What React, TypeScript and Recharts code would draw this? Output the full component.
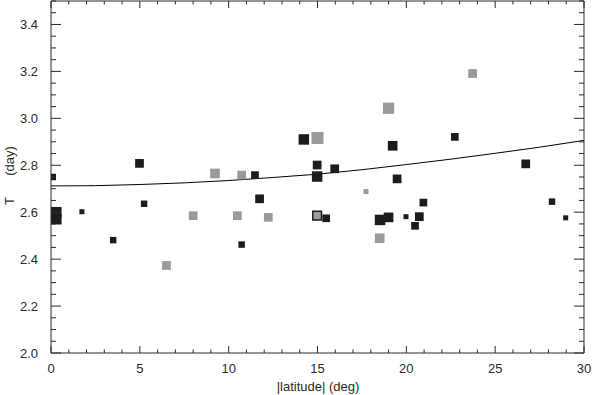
import React from "react";
import { ScatterChart, Scatter, XAxis, YAxis, ZAxis } from "recharts";

// dark squares: latitude, period, marker weight
const darkPoints = [
  { x: 0.1, y: 2.75, z: 2 },
  { x: 0.3, y: 2.6, z: 6 },
  { x: 0.3, y: 2.57, z: 6 },
  { x: 1.74, y: 2.602, z: 1 },
  { x: 3.5, y: 2.481, z: 2 },
  { x: 4.98, y: 2.808, z: 4 },
  { x: 5.24, y: 2.636, z: 2 },
  { x: 10.73, y: 2.462, z: 2 },
  { x: 11.48, y: 2.758, z: 3 },
  { x: 11.74, y: 2.657, z: 4 },
  { x: 14.23, y: 2.91, z: 6 },
  { x: 14.98, y: 2.801, z: 4 },
  { x: 14.98, y: 2.752, z: 6 },
  { x: 15.49, y: 2.574, z: 3 },
  { x: 15.97, y: 2.785, z: 4 },
  { x: 18.52, y: 2.567, z: 6 },
  { x: 19.0, y: 2.578, z: 5 },
  { x: 19.23, y: 2.883, z: 5 },
  { x: 19.48, y: 2.742, z: 4 },
  { x: 19.98, y: 2.581, z: 1 },
  { x: 20.49, y: 2.542, z: 3 },
  { x: 20.73, y: 2.581, z: 4 },
  { x: 20.96, y: 2.641, z: 3 },
  { x: 22.73, y: 2.921, z: 3 },
  { x: 26.72, y: 2.806, z: 4 },
  { x: 28.2, y: 2.645, z: 2 },
  { x: 28.97, y: 2.576, z: 1 },
];

const grayPoints = [
  { x: 6.5, y: 2.373, z: 4 },
  { x: 8.0, y: 2.585, z: 4 },
  { x: 9.23, y: 2.765, z: 5 },
  { x: 10.49, y: 2.585, z: 4 },
  { x: 10.73, y: 2.758, z: 4 },
  { x: 12.23, y: 2.578, z: 4 },
  { x: 15.0, y: 2.916, z: 8 },
  { x: 17.73, y: 2.688, z: 1 },
  { x: 18.5, y: 2.489, z: 5 },
  { x: 19.0, y: 3.043, z: 7 },
  { x: 23.73, y: 3.191, z: 4 },
];

const outlinedPoints = [{ x: 14.98, y: 2.585, z: 4 }];

// fitted curve
const fitCurve = [
  { x: 0, y: 2.712 },
  { x: 2.5, y: 2.713 },
  { x: 5, y: 2.718 },
  { x: 7.5, y: 2.725 },
  { x: 10, y: 2.735 },
  { x: 12.5, y: 2.748 },
  { x: 15, y: 2.762 },
  { x: 17.5, y: 2.781 },
  { x: 20, y: 2.803 },
  { x: 22.5, y: 2.826 },
  { x: 25, y: 2.851 },
  { x: 27.5, y: 2.877 },
  { x: 30, y: 2.906 },
];

const xTicks = [
  0, 1, 2, 3, 4, 5, 6, 7, 8, 9, 10, 11, 12, 13, 14, 15, 16, 17, 18, 19, 20,
  21, 22, 23, 24, 25, 26, 27, 28, 29, 30,
];
const xMajor = [0, 5, 10, 15, 20, 25, 30];
const yTicks = [
  2.0, 2.05, 2.1, 2.15, 2.2, 2.25, 2.3, 2.35, 2.4, 2.45, 2.5, 2.55, 2.6, 2.65,
  2.7, 2.75, 2.8, 2.85, 2.9, 2.95, 3.0, 3.05, 3.1, 3.15, 3.2, 3.25, 3.3, 3.35,
  3.4, 3.45, 3.5,
];
const yMajor = [2.0, 2.2, 2.4, 2.6, 2.8, 3.0, 3.2, 3.4];

const INK = "#2a2a2a";
const DARK = "#1c1c1c";
const GRAY = "#9a9a9a";
const FONT = "'Liberation Sans', Arial, sans-serif";

const isMajor = (list: number[], v: number) => list.some((m) => Math.abs(m - v) < 1e-6);

const BottomTick = (props: any) => {
  const { x, y, payload } = props;
  const major = isMajor(xMajor, payload.value);
  return (
    <g>
      <line x1={x} y1={y} x2={x} y2={y - (major ? 7 : 3.5)} stroke={INK} />
      {major && (
        <text x={x} y={y + 20} textAnchor="middle" fontSize={13} fontFamily={FONT} fill={INK}>
          {payload.value}
        </text>
      )}
    </g>
  );
};

const TopTick = (props: any) => {
  const { x, y, payload } = props;
  const major = isMajor(xMajor, payload.value);
  return <line x1={x} y1={y} x2={x} y2={y + (major ? 7 : 3.5)} stroke={INK} />;
};

const LeftTick = (props: any) => {
  const { x, y, payload } = props;
  const major = isMajor(yMajor, payload.value);
  return (
    <g>
      <line x1={x} y1={y} x2={x + (major ? 10 : 5)} y2={y} stroke={INK} />
      {major && (
        <text x={x - 13} y={y + 5} textAnchor="end" fontSize={13} fontFamily={FONT} fill={INK}>
          {payload.value.toFixed(1)}
        </text>
      )}
    </g>
  );
};

const RightTick = (props: any) => {
  const { x, y, payload } = props;
  const major = isMajor(yMajor, payload.value);
  return <line x1={x} y1={y} x2={x - (major ? 10 : 5)} y2={y} stroke={INK} />;
};

const NoMark = () => <g />;

export default function App() {
  return (
    <div style={{ position: "absolute", left: 0, top: 0, width: 593, height: 395, background: "#fff" }}>
      <ScatterChart width={593} height={395} margin={{ top: 0, right: 8, bottom: 41, left: 50 }}>
        <XAxis
          xAxisId="b"
          type="number"
          dataKey="x"
          domain={[0, 30]}
          ticks={xTicks}
          interval={0}
          orientation="bottom"
          height={1}
          tickSize={0}
          tickMargin={0}
          tickLine={false}
          axisLine={{ stroke: INK }}
          tick={BottomTick}
          allowDataOverflow
        />
        <XAxis
          xAxisId="t"
          type="number"
          dataKey="x"
          domain={[0, 30]}
          ticks={xTicks}
          interval={0}
          orientation="top"
          height={1}
          tickSize={0}
          tickMargin={0}
          tickLine={false}
          axisLine={{ stroke: INK }}
          tick={TopTick}
          allowDataOverflow
        />
        <YAxis
          yAxisId="l"
          type="number"
          dataKey="y"
          domain={[2.0, 3.5]}
          ticks={yTicks}
          interval={0}
          orientation="left"
          width={1}
          tickSize={0}
          tickMargin={0}
          tickLine={false}
          axisLine={{ stroke: INK }}
          tick={LeftTick}
          allowDataOverflow
        />
        <YAxis
          yAxisId="r"
          type="number"
          dataKey="y"
          domain={[2.0, 3.5]}
          ticks={yTicks}
          interval={0}
          orientation="right"
          width={1}
          tickSize={0}
          tickMargin={0}
          tickLine={false}
          axisLine={{ stroke: INK }}
          tick={RightTick}
          allowDataOverflow
        />
        <ZAxis type="number" dataKey="z" domain={[1, 8]} range={[25, 144]} />
        <Scatter
          xAxisId="t"
          yAxisId="r"
          data={fitCurve}
          line={{ stroke: "#000", strokeWidth: 1 }}
          lineType="joint"
          shape={NoMark}
          isAnimationActive={false}
        />
        <Scatter xAxisId="b" yAxisId="l" data={grayPoints} shape="square" fill={GRAY} isAnimationActive={false} />
        <Scatter xAxisId="b" yAxisId="l" data={darkPoints} shape="square" fill={DARK} isAnimationActive={false} />
        <Scatter
          xAxisId="b"
          yAxisId="l"
          data={outlinedPoints}
          shape="square"
          fill={GRAY}
          stroke={DARK}
          strokeWidth={1.5}
          isAnimationActive={false}
        />
      </ScatterChart>
      <svg width={593} height={395} style={{ position: "absolute", left: 0, top: 0, pointerEvents: "none" }}>
        <text x={318} y={391} textAnchor="middle" fontSize={13} fontFamily={FONT} fill={INK}>
          |latitude| (deg)
        </text>
        <text transform="translate(14,201) rotate(-90)" textAnchor="middle" fontSize={13} fontFamily={FONT} fill={INK}>
          T
        </text>
        <text transform="translate(14,161) rotate(-90)" textAnchor="middle" fontSize={13} fontFamily={FONT} fill={INK}>
          (day)
        </text>
      </svg>
    </div>
  );
}
